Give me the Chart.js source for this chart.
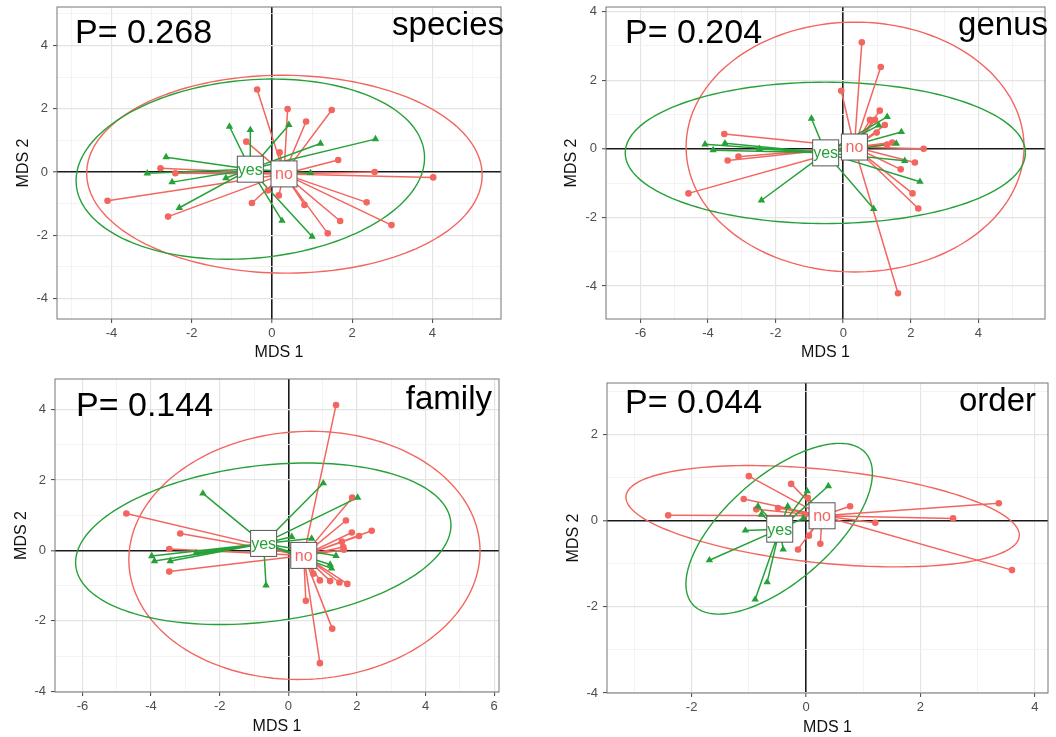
<!DOCTYPE html>
<html>
<head>
<meta charset="utf-8">
<script src="https://cdn.jsdelivr.net/npm/chart.js@4.4.1/dist/chart.umd.min.js"></script>
<style>
body { margin: 0; background: #fff; }
#wrap { position: relative; width: 1056px; height: 737px; }
.panel { position: absolute; width: 528px; }
</style>
</head>
<body>
<div id="wrap">
  <div class="panel" style="left:0;top:0;height:368px"><canvas id="c0"></canvas></div>
  <div class="panel" style="left:528px;top:0;height:368px"><canvas id="c1"></canvas></div>
  <div class="panel" style="left:0;top:368px;height:369px"><canvas id="c2"></canvas></div>
  <div class="panel" style="left:528px;top:368px;height:369px"><canvas id="c3"></canvas></div>
</div>
<script>
// ---- data ----
const ranks = ['species', 'genus', 'family', 'order'];
const pLabels = ['P= 0.268', 'P= 0.204', 'P= 0.144', 'P= 0.044'];
const groups = ['no', 'yes'];

// species
const speciesNo = [[-0.37,2.61],[0.39,1.99],[1.49,1.96],[0.85,1.60],[-0.64,0.96],[0.19,0.62],[1.65,0.38],
  [-2.78,0.12],[-2.41,-0.04],[2.56,0.0],[4.02,-0.17],[-4.10,-0.91],[-0.50,-0.98],[-0.10,-0.58],[0.17,-0.74],
  [0.81,-1.04],[2.36,-0.96],[-2.59,-1.41],[1.70,-1.55],[1.39,-1.94],[2.98,-1.68]];
const speciesYes = [[-1.06,1.44],[-0.54,1.33],[0.42,1.49],[1.21,0.90],[2.58,1.04],[-2.64,0.47],[-3.11,-0.04],
  [-2.49,-0.32],[-1.15,-0.19],[-2.31,-1.13],[0.25,-1.54],[1.00,-2.04],[0.96,-0.03]];
const speciesCentroids = [[0.30,-0.06],[-0.54,0.09]];
const speciesEllipses = [[0.31,-0.07,4.93,3.13,-0.01],[-0.54,0.09,4.37,2.81,0.143]];
const speciesXTicks = [-4,-2,0,2,4];
const speciesYTicks = [-4,-2,0,2,4];

// genus
const genusNo = [[0.55,3.10],[1.11,2.38],[-0.06,1.69],[1.08,1.11],[0.79,0.84],[0.94,0.84],[1.23,0.69],[0.99,0.47],
  [-3.52,0.43],[1.30,0.12],[1.45,0.18],[2.38,0.0],[-3.10,-0.23],[-3.42,-0.34],[2.12,-0.40],[1.70,-0.60],
  [2.05,-1.30],[2.22,-1.74],[-4.58,-1.30],[1.62,-4.21]];
const genusYes = [[-0.94,0.88],[1.30,0.93],[1.05,0.68],[1.72,0.49],[-4.09,0.13],[-3.50,0.16],[-3.85,-0.04],
  [-2.48,0.0],[1.57,0.15],[1.82,-0.35],[2.27,-0.96],[-2.42,-1.50],[0.90,-1.75]];
const genusCentroids = [[0.33,0.05],[-0.52,-0.12]];
const genusEllipses = [[0.35,0.05,5.0,3.64,0],[-0.53,-0.12,5.92,2.06,0]];
const genusXTicks = [-6,-4,-2,0,2,4];
const genusYTicks = [-4,-2,0,2,4];

// family
const familyNo = [[1.39,4.13],[-4.72,1.05],[-3.15,0.48],[1.86,1.50],[1.68,0.85],[1.85,0.51],[2.06,0.41],[2.43,0.56],
  [1.56,0.25],[1.60,0.10],[1.62,0.02],[-3.47,0.04],[-3.47,-0.60],[0.73,-0.66],[0.92,-0.85],[1.22,-0.87],
  [1.49,-0.91],[1.72,-0.95],[0.51,-1.43],[1.28,-2.22],[0.92,-3.20]];
const familyYes = [[-2.49,1.62],[1.02,1.91],[2.02,1.50],[0.10,0.39],[0.68,0.34],[-3.98,-0.16],[-3.90,-0.30],
  [-3.44,-0.30],[-2.69,-0.07],[1.39,-0.15],[1.22,-0.40],[1.26,-0.51],[-0.65,-0.99]];
const familyCentroids = [[0.45,-0.14],[-0.72,0.20]];
const familyEllipses = [[0.47,-0.14,5.12,3.52,0.045],[-0.73,0.19,5.50,2.22,0.115]];
const familyXTicks = [-6,-4,-2,0,2,4,6];
const familyYTicks = [-4,-2,0,2,4];

// order
const orderNo = [[-1.00,1.03],[-0.26,0.85],[-1.09,0.50],[-0.87,0.26],[-0.49,0.29],[0.77,0.33],[-2.41,0.12],
  [3.37,0.40],[2.57,0.05],[1.21,-0.05],[0.05,-0.35],[0.25,-0.54],[-0.14,-0.67],[3.60,-1.15],[0.03,0.53],[-0.02,0.14]];
const orderYes = [[0.39,0.80],[0.02,0.68],[-0.32,0.33],[-0.84,0.33],[-0.78,0.14],[-1.06,-0.23],[-1.69,-0.92],
  [-0.40,-0.67],[-0.68,-1.43],[-0.89,-1.83],[-0.05,0.05]];
const orderCentroids = [[0.28,0.11],[-0.46,-0.20]];
const orderEllipses = [[0.29,0.10,3.47,1.08,-0.141],[-0.47,-0.19,2.34,1.05,0.932]];
const orderXTicks = [-2,0,2,4];
const orderYTicks = [-4,-2,0,2];

// ---- look ----
const FONT = "'Liberation Sans', Arial, sans-serif";
const colors = ['#F3665F', '#25A138'];

// canvas-relative plot areas [left, top, right, bottom], axis limits, title paddings
const panels = [
  { no: speciesNo, yes: speciesYes, cen: speciesCentroids, ell: speciesEllipses, xt: speciesXTicks, yt: speciesYTicks,
    xlim: [-5.36, 5.71], ylim: [-4.65, 5.22], area: [57, 7, 501, 319], h: 368, xpad: 6, ypad: 14,
    pPos: [75, 43], rPos: [504, 35] },
  { no: genusNo, yes: genusYes, cen: genusCentroids, ell: genusEllipses, xt: genusXTicks, yt: genusYTicks,
    xlim: [-7.02, 5.97], ylim: [-4.96, 4.13], area: [78, 7, 517, 319], h: 368, xpad: 6, ypad: 34,
    pPos: [97, 43], rPos: [520, 35] },
  { no: familyNo, yes: familyYes, cen: familyCentroids, ell: familyEllipses, xt: familyXTicks, yt: familyYTicks,
    xlim: [-6.8, 6.14], ylim: [-4.02, 4.87], area: [55, 11, 499, 324], h: 369, xpad: 1, ypad: 12,
    pPos: [76, 48], rPos: [492, 41] },
  { no: orderNo, yes: orderYes, cen: orderCentroids, ell: orderEllipses, xt: orderXTicks, yt: orderYTicks,
    xlim: [-3.48, 4.23], ylim: [-4.0, 3.19], area: [79, 15, 520, 325], h: 369, xpad: 0, ypad: 36,
    pPos: [97, 45], rPos: [508, 43] }
];

const spider = (pts, c) => pts.flatMap(p => [{x: c[0], y: c[1]}, {x: p[0], y: p[1]}, {x: c[0], y: null}]);
const toXY = pts => pts.map(p => ({x: p[0], y: p[1]}));

const decor = {
  id: 'decor',
  beforeDatasetsDraw(chart, args, o) {
    const {ctx, chartArea: a, scales: {x, y}} = chart;
    ctx.save();
    ctx.beginPath();
    ctx.rect(a.left, a.top, a.width, a.height);
    ctx.clip();
    o.ell.forEach((e, i) => {
      ctx.beginPath();
      for (let k = 0; k <= 180; k++) {
        const t = k / 180 * 2 * Math.PI;
        const ux = e[2] * Math.cos(t), uy = e[3] * Math.sin(t);
        const px = x.getPixelForValue(e[0] + ux * Math.cos(e[4]) - uy * Math.sin(e[4]));
        const py = y.getPixelForValue(e[1] + ux * Math.sin(e[4]) + uy * Math.cos(e[4]));
        k ? ctx.lineTo(px, py) : ctx.moveTo(px, py);
      }
      ctx.strokeStyle = colors[i];
      ctx.lineWidth = 1.4;
      ctx.stroke();
    });
    ctx.restore();
  },
  afterDatasetsDraw(chart, args, o) {
    const {ctx, scales: {x, y}} = chart;
    ctx.save();
    o.cen.forEach((c, i) => {
      const px = x.getPixelForValue(c[0]), py = y.getPixelForValue(c[1]);
      ctx.fillStyle = '#fff';
      ctx.fillRect(px - 13, py - 13, 26, 26);
      ctx.strokeStyle = '#555';
      ctx.lineWidth = 1;
      ctx.strokeRect(px - 13, py - 13, 26, 26);
      ctx.fillStyle = colors[i];
      ctx.font = '16px ' + FONT;
      ctx.textAlign = 'center';
      ctx.textBaseline = 'middle';
      ctx.fillText(groups[i], px, py + 1);
    });
    ctx.restore();
  },
  afterDraw(chart, args, o) {
    const {ctx, chartArea: a} = chart;
    ctx.save();
    ctx.strokeStyle = '#777';
    ctx.lineWidth = 1;
    ctx.strokeRect(a.left, a.top, a.width, a.height);
    ctx.fillStyle = '#000';
    ctx.font = '34px ' + FONT;
    ctx.textBaseline = 'alphabetic';
    ctx.textAlign = 'left';
    ctx.fillText(o.p, o.pPos[0], o.pPos[1]);
    ctx.font = '33px ' + FONT;
    ctx.textAlign = 'right';
    ctx.fillText(o.rank, o.rPos[0], o.rPos[1]);
    ctx.restore();
  }
};

const axis = (lim, majors, fitSize, isX, title, tpad) => ({
  type: 'linear',
  min: lim[0],
  max: lim[1],
  afterBuildTicks: s => {
    const vals = [];
    for (let v = Math.ceil(lim[0]); v <= Math.floor(lim[1]); v++) vals.push(v);
    s.ticks = vals.map(v => ({value: v}));
  },
  afterFit: s => {
    if (isX) s.height = fitSize; else s.width = fitSize;
    s.paddingLeft = s.paddingRight = s.paddingTop = s.paddingBottom = 0;
  },
  ticks: {
    autoSkip: false,
    maxRotation: 0,
    padding: isX ? 3 : 5,
    color: '#4d4d4d',
    font: {size: 13, family: FONT},
    callback: v => majors.includes(v) ? String(v) : ''
  },
  grid: {
    tickLength: 4,
    color: c => c.tick && c.tick.value === 0 ? '#1a1a1a' : (majors.includes(c.tick && c.tick.value) ? '#e4e4e4' : '#f0f0f0'),
    lineWidth: c => c.tick && c.tick.value === 0 ? 1.6 : (majors.includes(c.tick && c.tick.value) ? 1.2 : 0.8),
    tickColor: c => majors.includes(c.tick && c.tick.value) ? '#444' : 'rgba(0,0,0,0)',
    tickWidth: 1
  },
  border: {display: false},
  title: {
    display: true,
    text: title,
    color: '#111',
    font: {size: 16, family: FONT},
    padding: isX ? {top: 0, bottom: tpad} : {top: tpad, bottom: 0}
  }
});

panels.forEach((p, i) => {
  const [L, T, R, B] = p.area;
  new Chart(document.getElementById('c' + i), {
    type: 'scatter',
    data: {
      datasets: [
        {data: spider(p.no, p.cen[0]), showLine: true, borderColor: colors[0], borderWidth: 1.5, pointRadius: 0, spanGaps: false, order: 4},
        {data: spider(p.yes, p.cen[1]), showLine: true, borderColor: colors[1], borderWidth: 1.5, pointRadius: 0, spanGaps: false, order: 3},
        {data: toXY(p.no), pointStyle: 'circle', pointRadius: 3.3, backgroundColor: colors[0], borderColor: colors[0], borderWidth: 0, order: 2},
        {data: toXY(p.yes), pointStyle: 'triangle', pointRadius: 4.3, backgroundColor: colors[1], borderColor: colors[1], borderWidth: 0, order: 1}
      ]
    },
    options: {
      responsive: true,
      maintainAspectRatio: false,
      animation: false,
      events: [],
      layout: {autoPadding: false, padding: {left: 0, top: T, right: 528 - R, bottom: 0}},
      scales: {
        x: axis(p.xlim, p.xt, p.h - B, true, 'MDS 1', p.xpad),
        y: axis(p.ylim, p.yt, L, false, 'MDS 2', p.ypad)
      },
      plugins: {
        legend: {display: false},
        tooltip: {enabled: false},
        decor: {ell: p.ell, cen: p.cen, p: pLabels[i], rank: ranks[i], pPos: p.pPos, rPos: p.rPos}
      }
    },
    plugins: [decor]
  });
});
</script>
</body>
</html>
